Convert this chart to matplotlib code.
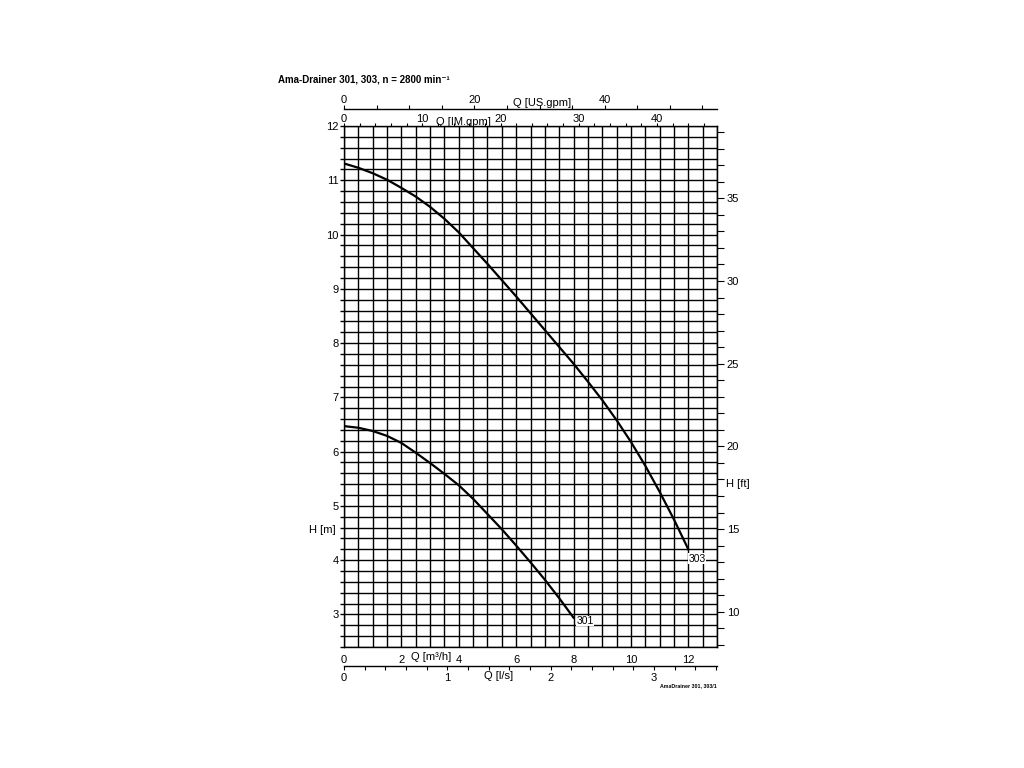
import numpy as np
import matplotlib
matplotlib.use('Agg')
import matplotlib.pyplot as plt

plt.rcParams['font.family'] = ['Liberation Sans', 'DejaVu Sans']

# pump curves, Q in m3/h, H in m
q_303 = [0, 0.5, 1.0, 1.5, 2.0, 2.5, 3.0, 3.5, 4.0, 4.5, 5.0, 5.5, 6.0,
         6.5, 7.0, 7.5, 8.0, 8.5, 9.0, 9.5, 10.0, 10.5, 11.0, 11.5, 12.0]
h_303 = [11.31, 11.23, 11.13, 11.01, 10.86, 10.70, 10.51, 10.29, 10.04, 9.75,
         9.46, 9.16, 8.86, 8.55, 8.24, 7.93, 7.62, 7.29, 6.95, 6.58, 6.18,
         5.74, 5.26, 4.75, 4.20]

q_301 = [0, 0.5, 1.0, 1.5, 2.0, 2.5, 3.0, 3.5, 4.0, 4.5, 5.0, 5.5, 6.0,
         6.5, 7.0, 7.5, 8.0]
h_301 = [6.47, 6.44, 6.38, 6.29, 6.16, 5.98, 5.79, 5.59, 5.38, 5.13, 4.85,
         4.57, 4.27, 3.96, 3.64, 3.30, 2.94]

curve_names = ['303', '301']

# unit conversions
US_GPM = 4.4029   # per m3/h
IM_GPM = 3.6662   # per m3/h
LPS = 1 / 3.6     # l/s per m3/h
FT = 3.28084      # ft per m

fs = 8

fig = plt.figure(figsize=(10.24, 7.68), dpi=100)
ax = fig.add_axes([344/1024, 1-647/768, 373/1024, 521/768])

ax.plot(q_303, h_303, 'k-', lw=1.6)
ax.plot(q_301, h_301, 'k-', lw=1.6)
ax.text(q_303[-1] + 0.3, h_303[-1] - 0.17, curve_names[0], fontsize=7.5,
        ha='center', va='center', bbox=dict(fc='white', ec='none', pad=0.3))
ax.text(q_301[-1] + 0.4, h_301[-1] - 0.06, curve_names[1], fontsize=7.5,
        ha='center', va='center', bbox=dict(fc='white', ec='none', pad=0.3))

ax.set_xlim(0, 13)
ax.set_ylim(2.4, 12)

ax.set_xticks(np.arange(0, 12.1, 2))
ax.set_xticks(np.arange(0, 13.01, 0.5), minor=True)
ax.set_yticks(np.arange(3, 12.1, 1))
ax.set_yticks(np.arange(2.4, 12.01, 0.2), minor=True)
ax.grid(which='both', color='black', lw=1.0)
ax.set_axisbelow(True)
ax.tick_params(axis='x', which='both', length=0, labelsize=fs, pad=6)
ax.tick_params(axis='y', which='both', length=3, width=1.0, labelsize=fs, pad=1)
for s in ax.spines.values():
    s.set_linewidth(1.0)

# top axes: IM gpm on the grid edge, US gpm a bit higher
im = ax.secondary_xaxis('top', functions=(lambda q: q*IM_GPM, lambda g: g/IM_GPM))
im.set_xticks(np.arange(0, 41, 10))
im.set_xticks(np.arange(0, 47.7, 2), minor=True)
im.tick_params(which='both', length=2.5, width=0.8, labelsize=fs, pad=-1)
im.spines['top'].set_visible(False)

us = ax.secondary_xaxis(1.032, functions=(lambda q: q*US_GPM, lambda g: g/US_GPM))
us.set_xticks([0, 20, 40])
us.set_xticks(np.arange(0, 57, 5), minor=True)
us.tick_params(which='both', length=3, width=0.8, labelsize=fs, pad=0)
us.spines['top'].set_linewidth(1.0)

# bottom l/s axis
ls = ax.secondary_xaxis(-0.0365, functions=(lambda q: q*LPS, lambda l: l/LPS))
ls.set_xticks([0, 1, 2, 3])
ls.set_xticks(np.arange(0, 3.61, 0.2), minor=True)
ls.tick_params(which='both', length=3, width=0.8, labelsize=fs, pad=2)
ls.spines['bottom'].set_linewidth(1.0)

# right feet axis
ft = ax.secondary_yaxis('right', functions=(lambda h: h*FT, lambda f: f/FT))
ft.set_yticks(np.arange(10, 36, 5))
ft.set_yticks(np.arange(8, 40, 1), minor=True)
ft.tick_params(which='both', length=5, width=0.8, labelsize=fs, pad=2)

# axis names
fig.text(431/1024, 1-657/768, 'Q [m³/h]', fontsize=fs, ha='center', va='center')
fig.text(499/1024, 1-676/768, 'Q [l/s]', fontsize=fs, ha='center', va='center')
fig.text(463/1024, 1-122/768, 'Q [IM.gpm]', fontsize=fs, ha='center', va='center')
fig.text(542/1024, 1-103/768, 'Q [US.gpm]', fontsize=fs, ha='center', va='center')
fig.text(336/1024, 1-530/768, 'H [m]', fontsize=fs, ha='right', va='center')
fig.text(726/1024, 1-484/768, 'H [ft]', fontsize=fs, ha='left', va='center')

fig.text(278/1024, 1-80/768, 'Ama-Drainer 301, 303, n = 2800 min⁻¹',
         fontsize=7, fontweight='bold', ha='left', va='center')
fig.text(717/1024, 1-686/768, 'AmaDrainer 301, 303/1', fontsize=3.8,
         fontweight='bold', ha='right', va='center')

fig.savefig('out.png', dpi=100)
